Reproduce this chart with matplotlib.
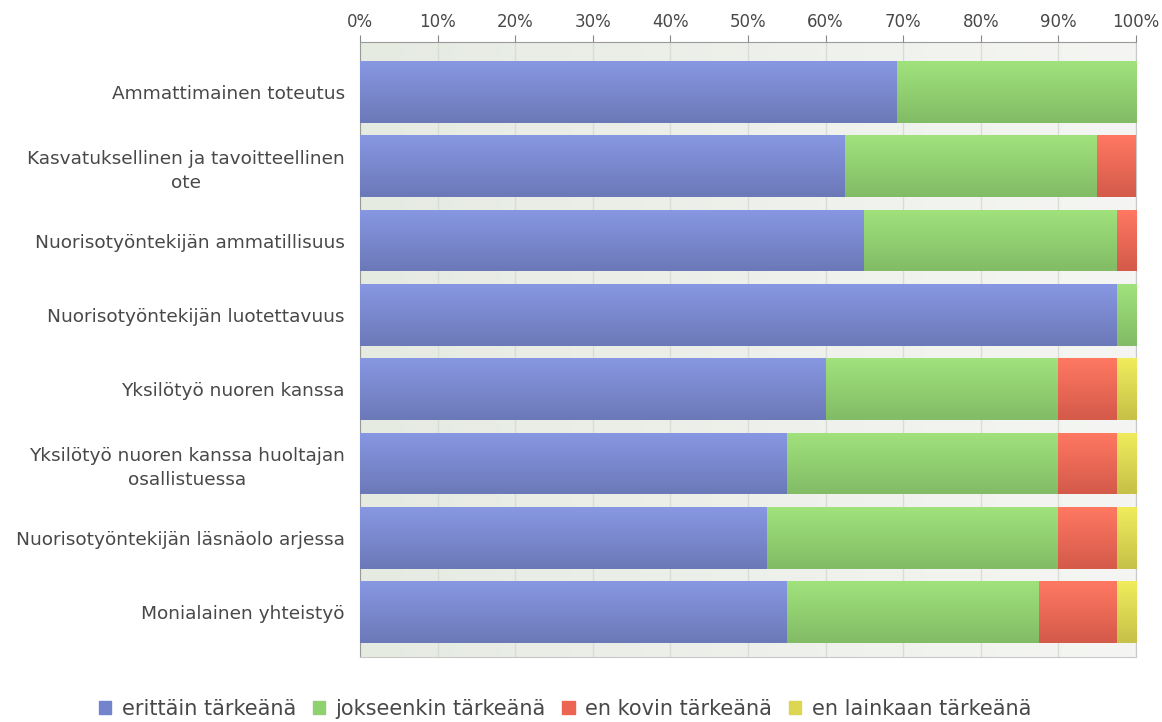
import numpy as np
import matplotlib
matplotlib.use('Agg')
import matplotlib.pyplot as plt
from matplotlib.patches import Rectangle

plt.rcParams['font.family'] = ['DejaVu Sans']

# data (percent of respondents)
categories = [
    "Ammattimainen toteutus",
    "Kasvatuksellinen ja tavoitteellinen\note",
    "Nuorisotyöntekijän ammatillisuus",
    "Nuorisotyöntekijän luotettavuus",
    "Yksilötyö nuoren kanssa",
    "Yksilötyö nuoren kanssa huoltajan\nosallistuessa",
    "Nuorisotyöntekijän läsnäolo arjessa",
    "Monialainen yhteistyö",
]
series_names = ["erittäin tärkeänä", "jokseenkin tärkeänä", "en kovin tärkeänä", "en lainkaan tärkeänä"]
very = [69.2, 62.5, 65.0, 97.5, 60.0, 55.0, 52.5, 55.0]
somewhat = [30.8, 32.5, 32.5, 2.5, 30.0, 35.0, 37.5, 32.5]
not_very = [0.0, 5.0, 2.5, 0.0, 7.5, 7.5, 7.5, 10.0]
not_at_all = [0.0, 0.0, 0.0, 0.0, 2.5, 2.5, 2.5, 2.5]
ticks = list(range(0, 101, 10))

# (top colour, bottom colour) for the vertical bar gradient
colors = [("#8797e2", "#6c79b8"), ("#a0e27c", "#82bc66"), ("#ff7862", "#d45a4a"), ("#f0ec5c", "#c6c148")]
legend_colors = ["#7384cc", "#8fd06f", "#ec6553", "#dcd652"]
text_color = "#484848"

fig = plt.figure(figsize=(11.62, 7.22), dpi=100)
ax = fig.add_axes([360 / 1162, 1 - 657 / 722, 776 / 1162, 615 / 722])

ax.set_xlim(0, 100)
ax.set_ylim(7.606, -0.673)

# background gradient
bg = np.linspace(0, 1, 256).reshape(1, -1)
bg_cmap = matplotlib.colors.LinearSegmentedColormap.from_list("bg", ["#e6ebe2", "#f5f6f3"])
ax.imshow(bg, cmap=bg_cmap, extent=(0, 100, 7.606, -0.673), aspect='auto', zorder=0)

for t in ticks:
    ax.axvline(t, color="#dadcd8", lw=1, zorder=1)

vgrad = np.linspace(0, 1, 64).reshape(-1, 1)
y = np.arange(len(categories))
left = np.zeros(len(categories))
for vals, (c_top, c_bot) in zip([very, somewhat, not_very, not_at_all], colors):
    cmap = matplotlib.colors.LinearSegmentedColormap.from_list("g", [c_top, c_bot])
    bars = ax.barh(y, vals, left=left, height=0.83, color=c_top, edgecolor="none", zorder=2)
    for b in bars:
        if b.get_width() <= 0:
            continue
        x0, y0 = b.get_x(), b.get_y()
        w, h = b.get_width(), b.get_height()
        im = ax.imshow(vgrad, cmap=cmap, extent=(x0, x0 + w, y0 + h, y0), aspect='auto', zorder=3)
        im.set_clip_path(b)
    left += np.array(vals)

ax.set_xlim(0, 100)
ax.set_ylim(7.606, -0.673)

ax.xaxis.tick_top()
ax.set_xticks(ticks)
ax.set_xticklabels([f"{t}%" for t in ticks], fontsize=12, color=text_color)
ax.tick_params(axis='x', direction='out', length=5, color="#888888", pad=3)
ax.set_yticks(y)
ax.set_yticklabels(categories, fontsize=13.3, color=text_color, multialignment='center', linespacing=1.4)
ax.tick_params(axis='y', length=0, pad=11)

for side in ['top', 'right', 'bottom']:
    ax.spines[side].set_color("#c8c8c8")
ax.spines['left'].set_color("#999999")
ax.spines['top'].set_color("#999999")

handles = [Rectangle((0, 0), 1, 1, color=c) for c in legend_colors]
leg = fig.legend(handles, series_names, loc='center', bbox_to_anchor=(565 / 1162, 1 - 709 / 722),
                 ncol=4, frameon=False, fontsize=15, handlelength=0.6, handleheight=0.6,
                 handletextpad=0.5, columnspacing=0.8)
for txt in leg.get_texts():
    txt.set_color(text_color)

fig.savefig("out.png", dpi=100)
